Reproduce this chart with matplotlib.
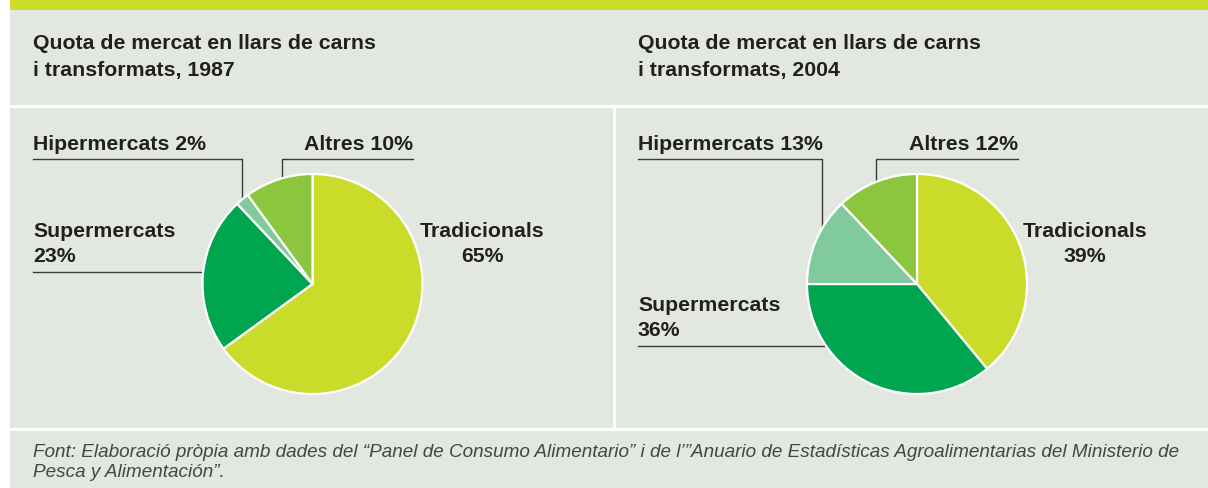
import numpy as np
import matplotlib.pyplot as plt
from matplotlib.patches import Rectangle

# ─── DATA ─────────────────────────────────────────────────
CATEGORIES = ["Tradicionals", "Supermercats", "Hipermercats", "Altres"]
SHARE_1987 = [65, 23, 2, 10]
SHARE_2004 = [39, 36, 13, 12]
YEARS = ["1987", "2004"]
TITLE = "Quota de mercat en llars de carns"
TITLE_2 = "i transformats, {}"
SOURCE_1 = ("Font: Elaboració pròpia amb dades del \u201cPanel de Consumo Alimentario\u201d "
            "i de l\u2019\u201dAnuario de Estadísticas Agroalimentarias del Ministerio de")
SOURCE_2 = "Pesca y Alimentación\u201d."

# ─── STYLE ────────────────────────────────────────────────
W, H = 1208, 489
BG = "#e2e7e0"
BAR = "#cddc29"
COLORS = ["#cbdb2a", "#00a54f", "#80ca9c", "#8cc63f"]
TXT = "#231f20"
LINE = "#3a3a3a"
FONT = "Liberation Sans"
R = 110


def edge_y(cx, cy, x):
    # y of the top edge of a pie at a given x (pixel coords, y down)
    return cy - np.sqrt(R ** 2 - (x - cx) ** 2)


def edge_x(cx, cy, y):
    # x of the left edge of a pie at a given y
    return cx - np.sqrt(R ** 2 - (y - cy) ** 2)


def draw_pie(fig, cx, cy, values):
    pad = 4
    ax = fig.add_axes([(cx - R - pad) / W, 1 - (cy + R + pad) / H,
                       2 * (R + pad) / W, 2 * (R + pad) / H])
    ax.pie(values, colors=COLORS, startangle=90, counterclock=False,
           radius=1, wedgeprops=dict(edgecolor="white", linewidth=1.6))
    lim = 1 + pad / R
    ax.set_xlim(-lim, lim)
    ax.set_ylim(-lim, lim)
    ax.set_aspect("auto")
    ax.axis("off")


def bold(ax, x, y, s, ha="left"):
    ax.text(x, y, s, fontsize=15.3, fontweight="bold", color=TXT,
            family=FONT, ha=ha, va="baseline")


def main():
    fig = plt.figure(figsize=(W / 100, H / 100), dpi=100)
    fig.patch.set_facecolor("white")
    ax = fig.add_axes([0, 0, 1, 1])
    ax.set_xlim(0, W)
    ax.set_ylim(H, 0)
    ax.axis("off")

    # background panels
    ax.add_patch(Rectangle((10, 0), W - 10, H, color=BG, lw=0))
    ax.add_patch(Rectangle((10, 0), W - 10, 11, color=BAR, lw=0))
    ax.plot([10, W], [107, 107], color="white", lw=2.2)
    ax.plot([10, W], [429.5, 429.5], color="white", lw=2.2)
    ax.plot([614, 614], [107, 429], color="white", lw=2.0)

    panels = [(33, 312.5, SHARE_1987, YEARS[0], 272.7, 482),
              (638, 917, SHARE_2004, YEARS[1], 346.7, 1085)]

    for x0, cx, vals, year, sup_y, trad_x in panels:
        cy = 285
        # titles
        bold(ax, x0, 49, TITLE)
        bold(ax, x0, 76, TITLE_2.format(year))

        # Hipermercats label + leader
        hip_x = x0 + (209 if x0 == 33 else 184)
        bold(ax, x0, 150, f"{CATEGORIES[2]} {vals[2]}%")
        ax.plot([x0, hip_x, hip_x], [160, 160, edge_y(cx, cy, hip_x)],
                color=LINE, lw=1.0)

        # Altres label + leader
        alt_x = cx - (30.5 if x0 == 33 else 41)
        alt_r = cx + (100.5 if x0 == 33 else 101)
        bold(ax, alt_r, 150, f"{CATEGORIES[3]} {vals[3]}%", ha="right")
        ax.plot([alt_r, alt_x, alt_x], [160, 160, edge_y(cx, cy, alt_x)],
                color=LINE, lw=1.0)

        # Supermercats label + leader
        bold(ax, x0, sup_y - 35.5, CATEGORIES[1])
        bold(ax, x0, sup_y - 10.5, f"{vals[1]}%")
        ax.plot([x0, edge_x(cx, cy, sup_y)], [sup_y, sup_y], color=LINE, lw=1.0)

        # Tradicionals label
        bold(ax, trad_x, 237, CATEGORIES[0], ha="center")
        bold(ax, trad_x, 262, f"{vals[0]}%", ha="center")

        draw_pie(fig, cx, cy, vals)

    # source note
    for y, s in [(457, SOURCE_1), (477, SOURCE_2)]:
        ax.text(33, y, s, fontsize=13.55, style="italic", color="#454545",
                family=FONT, ha="left", va="baseline")

    fig.savefig("out.png", dpi=100, facecolor=fig.get_facecolor())


if __name__ == "__main__":
    main()
